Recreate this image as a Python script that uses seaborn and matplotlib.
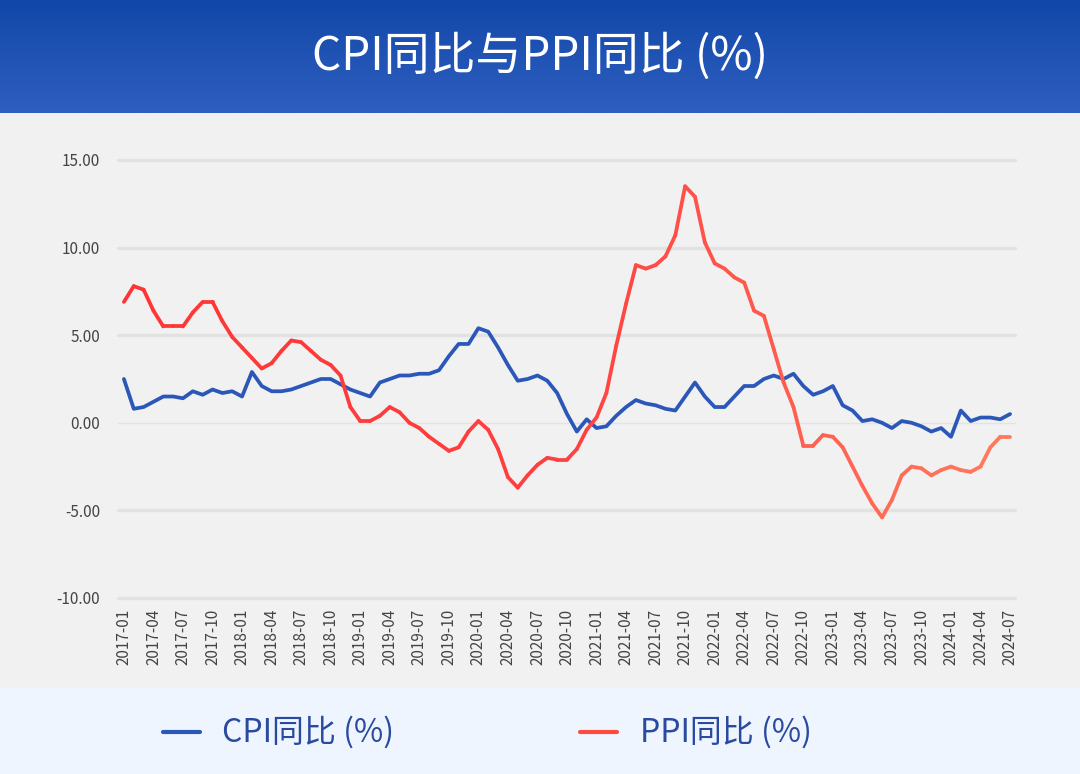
import numpy as np
import pandas as pd
import matplotlib
matplotlib.use("Agg")
import matplotlib.pyplot as plt
from matplotlib.collections import LineCollection
from matplotlib.colors import LinearSegmentedColormap
from matplotlib.lines import Line2D
import seaborn as sns

# monthly data 2017-01 .. 2024-07
months = pd.period_range("2017-01", "2024-07", freq="M").strftime("%Y-%m").tolist()

cpi = [2.5, 0.8, 0.9, 1.2, 1.5, 1.5, 1.4, 1.8, 1.6, 1.9, 1.7, 1.8,
       1.5, 2.9, 2.1, 1.8, 1.8, 1.9, 2.1, 2.3, 2.5, 2.5, 2.2, 1.9,
       1.7, 1.5, 2.3, 2.5, 2.7, 2.7, 2.8, 2.8, 3.0, 3.8, 4.5, 4.5,
       5.4, 5.2, 4.3, 3.3, 2.4, 2.5, 2.7, 2.4, 1.7, 0.5, -0.5, 0.2,
       -0.3, -0.2, 0.4, 0.9, 1.3, 1.1, 1.0, 0.8, 0.7, 1.5, 2.3, 1.5,
       0.9, 0.9, 1.5, 2.1, 2.1, 2.5, 2.7, 2.5, 2.8, 2.1, 1.6, 1.8,
       2.1, 1.0, 0.7, 0.1, 0.2, 0.0, -0.3, 0.1, 0.0, -0.2, -0.5, -0.3,
       -0.8, 0.7, 0.1, 0.3, 0.3, 0.2, 0.5]

ppi = [6.9, 7.8, 7.6, 6.4, 5.5, 5.5, 5.5, 6.3, 6.9, 6.9, 5.8, 4.9,
       4.3, 3.7, 3.1, 3.4, 4.1, 4.7, 4.6, 4.1, 3.6, 3.3, 2.7, 0.9,
       0.1, 0.1, 0.4, 0.9, 0.6, 0.0, -0.3, -0.8, -1.2, -1.6, -1.4, -0.5,
       0.1, -0.4, -1.5, -3.1, -3.7, -3.0, -2.4, -2.0, -2.1, -2.1, -1.5, -0.4,
       0.3, 1.7, 4.4, 6.8, 9.0, 8.8, 9.0, 9.5, 10.7, 13.5, 12.9, 10.3,
       9.1, 8.8, 8.3, 8.0, 6.4, 6.1, 4.2, 2.3, 0.9, -1.3, -1.3, -0.7,
       -0.8, -1.4, -2.5, -3.6, -4.6, -5.4, -4.4, -3.0, -2.5, -2.6, -3.0, -2.7,
       -2.5, -2.7, -2.8, -2.5, -1.4, -0.8, -0.8]

y_ticks = [-10, -5, 0, 5, 10, 15]
title = "CPI同比与PPI同比 (%)"
cpi_label = "CPI同比 (%)"
ppi_label = "PPI同比 (%)"

df = pd.DataFrame({"idx": np.arange(len(months)), "month": months, "cpi": cpi, "ppi": ppi})

sns.set_theme(style="white")
plt.rcParams["font.family"] = ["Noto Sans CJK SC", "DejaVu Sans"]

cpi_color = "#2b58b8"
ppi_cmap = LinearSegmentedColormap.from_list("ppi", ["#ff3535", "#ff4040", "#ff7a5c"])

fig = plt.figure(figsize=(10.8, 7.74), dpi=100)
fig.patch.set_facecolor("#f1f1f1")

# header band with vertical gradient
hdr = fig.add_axes([0, 1 - 113 / 774, 1, 113 / 774])
grad = np.linspace(0, 1, 100).reshape(-1, 1)
hdr.imshow(grad, aspect="auto", cmap=LinearSegmentedColormap.from_list("hdr", ["#1147a8", "#2f5fc0"]),
           extent=[0, 1, 0, 1], origin="upper")
hdr.set_axis_off()
hdr.text(0.5, 0.5, title, color="white", fontsize=33, fontweight="light",
         ha="center", va="center", transform=hdr.transAxes)

# legend band
leg = fig.add_axes([0, 0, 1, 86 / 774])
leg.set_facecolor("#eef5fe")
leg.set_xlim(0, 1080)
leg.set_ylim(0, 86)
leg.set_xticks([])
leg.set_yticks([])
for s in leg.spines.values():
    s.set_visible(False)
leg.add_line(Line2D([163, 200], [42, 42], color=cpi_color, lw=3))
leg.add_line(Line2D([580, 617], [42, 42], color="#ff4a40", lw=3))
leg.text(222, 42, cpi_label, color="#2a4aa0", fontsize=23, fontweight="light", va="center")
leg.text(640, 42, ppi_label, color="#2a4aa0", fontsize=23, fontweight="light", va="center")

# main plot
ax = fig.add_axes([118 / 1080, 1 - 598 / 774, (1015 - 118) / 1080, (598 - 160) / 774])
ax.set_facecolor("#f1f1f1")
for s in ax.spines.values():
    s.set_visible(False)

for t in y_ticks:
    if t == 0:
        ax.axhline(t, color="#e3e3e3", lw=1, zorder=1, clip_on=False)
    else:
        ax.axhline(t, color="#e2e2e2", lw=2.4, zorder=1, clip_on=False)

sns.lineplot(data=df, x="idx", y="cpi", color=cpi_color, lw=2.7, ax=ax, zorder=3)

pts = np.column_stack([df["idx"], df["ppi"]]).reshape(-1, 1, 2)
segs = np.concatenate([pts[:-1], pts[1:]], axis=1)
lc = LineCollection(segs, cmap=ppi_cmap, lw=2.7, zorder=3, capstyle="round", joinstyle="round")
lc.set_array(np.linspace(0, 1, len(segs)))
ax.add_collection(lc)

ax.set_xlim(-0.6, len(months) - 0.5)
ax.set_ylim(-10, 15)
ax.set_yticks(y_ticks)
ax.set_yticklabels([f"{t:.2f}" for t in y_ticks], fontsize=11, color="#444444")
ax.set_xticks(df["idx"][::3])
ax.set_xticklabels(df["month"][::3], rotation=90, fontsize=11, color="#444444")
ax.tick_params(axis="y", length=0, pad=13)
ax.tick_params(axis="x", length=0, pad=8)
ax.set_xlabel("")
ax.set_ylabel("")

fig.savefig("out.png", dpi=100, facecolor=fig.get_facecolor())
